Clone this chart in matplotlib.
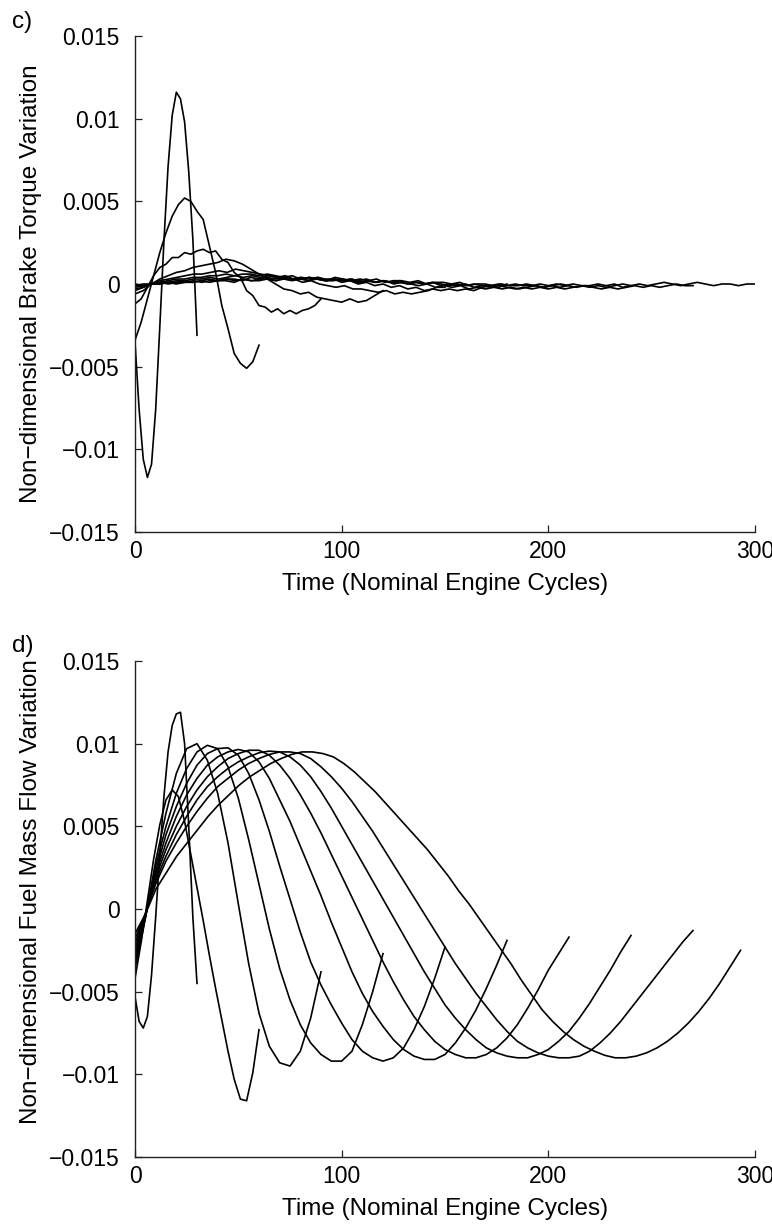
import numpy as np
import matplotlib.pyplot as plt

plt.rcParams['font.family'] = ['Liberation Sans', 'DejaVu Sans']

# end of each run (nominal engine cycles)
torque_ends = [30, 60, 90, 120, 150, 180, 210, 240, 270, 300]
fuel_ends = [30, 60, 90, 120, 150, 180, 210, 240, 270, 293]

# c) brake torque variation, in units of 1e-3
torque_30 = [-3.5, -7.6, -10.6, -11.7, -10.9, -7.6, -2.6, 2.6, 7.1, 10.2, 11.6, 11.2, 9.8, 6.8, 2.7, -3.1]
torque_60 = [-3.4, -2.3, -0.9, 0.5, 1.9, 3.1, 4.1, 4.8, 5.2, 5.0, 4.4, 3.9, 2.3, 0.7, -1.3, -2.7,
             -4.2, -4.8, -5.1, -4.7, -3.7]
torque_90 = [-1.2, -0.9, -0.2, 0.5, 1.0, 1.2, 1.6, 1.6, 1.9, 1.8, 2.0, 2.1, 1.9, 2.0, 1.5, 1.3,
             0.7, 0.4, -0.4, -0.7, -1.3, -1.4, -1.7, -1.5, -1.8, -1.6, -1.8, -1.6, -1.5, -1.3, -0.9]
torque_120 = [-0.6, -0.4, 0.0, 0.3, 0.5, 0.7, 0.8, 1.0, 1.1, 1.2, 1.3, 1.5, 1.4, 1.2, 0.9, 0.6,
              0.3, 0.0, -0.3, -0.4, -0.6, -0.5, -0.8, -0.9, -1.0, -1.1, -0.9, -1.1, -1.0, -0.7, -0.4]
torque_150 = [-0.4, -0.2, 0.0, 0.2, 0.3, 0.4, 0.5, 0.6, 0.6, 0.7, 0.8, 0.7, 0.9, 0.8, 0.7, 0.6,
              0.5, 0.4, 0.3, 0.3, 0.1, 0.2, 0.0, -0.1, -0.2, -0.1, -0.3, -0.3, -0.4, -0.5, -0.4,
              -0.6, -0.5, -0.6, -0.5, -0.4, -0.2, -0.2]
torque_180 = [-0.3, -0.2, 0.0, 0.1, 0.2, 0.3, 0.3, 0.4, 0.4, 0.5, 0.5, 0.6, 0.5, 0.6, 0.6, 0.5,
              0.6, 0.5, 0.4, 0.5, 0.3, 0.4, 0.3, 0.2, 0.3, 0.1, 0.2, 0.0, 0.1, -0.1, 0.0, -0.2,
              -0.1, -0.3, -0.2, -0.4, -0.3, -0.4, -0.3, -0.4, -0.3, -0.4, -0.2, -0.1, -0.2, 0.0]
torque_210 = [-0.2, -0.1, 0.0, 0.1, 0.1, 0.2, 0.2, 0.3, 0.3, 0.4, 0.3, 0.4, 0.5, 0.4, 0.5, 0.4,
              0.5, 0.4, 0.5, 0.3, 0.4, 0.3, 0.4, 0.2, 0.3, 0.2, 0.3, 0.1, 0.2, 0.1, 0.2, 0.0,
              0.1, 0.0, -0.1, 0.0, -0.2, -0.1, -0.2, -0.1, -0.3, -0.2, -0.3, -0.2, -0.3, -0.2,
              -0.3, -0.2, -0.1, -0.2, -0.1, 0.0, -0.1]
torque_240 = [-0.1, -0.1, 0.0, 0.0, 0.1, 0.1, 0.2, 0.1, 0.2, 0.3, 0.2, 0.3, 0.3, 0.2, 0.4, 0.3,
              0.4, 0.3, 0.4, 0.3, 0.4, 0.2, 0.4, 0.3, 0.3, 0.2, 0.3, 0.2, 0.3, 0.1, 0.2, 0.1,
              0.2, 0.0, 0.1, 0.0, 0.1, -0.1, 0.0, -0.1, 0.0, -0.2, -0.1, -0.2, -0.1, -0.2, -0.3,
              -0.2, -0.3, -0.2, -0.3, -0.2, -0.3, -0.2, -0.1, -0.2, -0.1, -0.2, -0.1, 0.0, -0.1]
torque_270 = [-0.1, 0.0, 0.0, 0.1, 0.0, 0.1, 0.1, 0.2, 0.1, 0.2, 0.2, 0.3, 0.2, 0.3, 0.2, 0.3,
              0.3, 0.2, 0.4, 0.3, 0.3, 0.4, 0.3, 0.2, 0.4, 0.3, 0.2, 0.3, 0.2, 0.3, 0.1, 0.2,
              0.2, 0.1, 0.2, 0.0, 0.1, 0.1, 0.0, 0.1, -0.1, 0.0, 0.0, -0.1, 0.0, -0.1, -0.1, 0.0,
              -0.1, -0.2, -0.1, -0.2, -0.1, -0.2, -0.1, -0.2, -0.3, -0.2, -0.3, -0.2, -0.1, -0.2,
              -0.1, -0.2, -0.1, 0.0, -0.1, -0.1]
torque_300 = [0.0, -0.1, 0.0, 0.0, 0.1, 0.0, 0.1, 0.1, 0.2, 0.1, 0.2, 0.2, 0.1, 0.3, 0.2, 0.2,
              0.3, 0.2, 0.3, 0.2, 0.3, 0.2, 0.3, 0.2, 0.2, 0.3, 0.2, 0.1, 0.2, 0.1, 0.2, 0.1,
              0.1, 0.0, 0.1, 0.0, 0.1, 0.0, -0.1, 0.0, -0.1, 0.0, -0.1, -0.1, 0.0, -0.1, 0.0,
              -0.1, -0.1, 0.0, -0.1, 0.0, -0.1, 0.0, -0.1, -0.1, 0.0, -0.1, 0.0, -0.2, -0.1, 0.0,
              -0.1, 0.0, 0.1, 0.0, -0.1, 0.0, 0.1, 0.0, -0.1, 0.0, 0.0, -0.1, 0.0, 0.0]

# d) fuel mass flow variation, in units of 1e-3
fuel_30 = [-5.3, -6.8, -7.2, -6.5, -4.0, -0.5, 3.3, 6.8, 9.5, 11.1, 11.8, 11.9, 10.0, 5.0, -0.5, -4.5]
fuel_60 = [-4.2, -2.0, 0.5, 3.0, 5.1, 6.6, 7.2, 6.8, 5.3, 3.3, 1.3, -0.7, -2.8, -4.8, -6.7, -8.6,
           -10.3, -11.5, -11.6, -9.9, -7.3]
fuel_90 = [-3.6, -0.6, 2.9, 5.8, 8.2, 9.7, 10.0, 9.0, 7.0, 4.0, 0.3, -3.3, -6.3, -8.3, -9.3, -9.5,
           -8.6, -6.6, -3.8]
fuel_120 = [-3.3, -0.5, 2.6, 5.0, 7.0, 8.5, 9.5, 9.9, 9.7, 8.6, 6.7, 4.2, 1.5, -1.2, -3.6, -5.5,
            -7.0, -8.1, -8.8, -9.2, -9.2, -8.6, -7.0, -5.0, -2.7]
fuel_150 = [-3.0, -0.5, 2.3, 4.5, 6.2, 7.6, 8.7, 9.4, 9.7, 9.75, 9.3, 8.2, 6.6, 4.7, 2.6, 0.6,
            -1.4, -3.2, -4.6, -5.8, -6.9, -7.9, -8.6, -9.0, -9.2, -9.0, -8.4, -7.3, -5.9, -4.2, -2.3]
fuel_180 = [-2.7, -0.4, 2.1, 4.0, 5.6, 6.9, 7.9, 8.7, 9.2, 9.5, 9.65, 9.5, 8.9, 7.9, 6.6, 5.3,
            3.8, 2.3, 0.8, -0.8, -2.3, -3.8, -5.1, -6.2, -7.1, -7.9, -8.5, -8.9, -9.1, -9.1,
            -8.8, -8.1, -7.2, -6.1, -4.8, -3.4, -1.9]
fuel_210 = [-2.4, -0.4, 1.9, 3.6, 5.0, 6.2, 7.2, 8.0, 8.6, 9.1, 9.4, 9.6, 9.6, 9.3, 8.7, 7.9,
            6.9, 5.8, 4.6, 3.3, 2.0, 0.7, -0.6, -1.9, -3.2, -4.4, -5.5, -6.5, -7.3, -8.0, -8.5,
            -8.8, -9.0, -9.0, -8.8, -8.4, -7.8, -7.0, -6.0, -4.9, -3.7, -2.7, -1.7]
fuel_240 = [-2.1, -0.3, 1.7, 3.2, 4.5, 5.6, 6.6, 7.4, 8.0, 8.5, 8.9, 9.2, 9.45, 9.55, 9.5, 9.2,
            8.7, 8.0, 7.1, 6.1, 5.0, 3.9, 2.8, 1.7, 0.6, -0.5, -1.6, -2.7, -3.8, -4.8, -5.8,
            -6.6, -7.3, -7.9, -8.4, -8.7, -8.9, -9.0, -9.0, -8.8, -8.5, -8.0, -7.4, -6.6, -5.7,
            -4.7, -3.7, -2.6, -1.6]
fuel_270 = [-1.8, -0.3, 1.5, 2.9, 4.0, 5.0, 5.9, 6.7, 7.4, 7.9, 8.4, 8.8, 9.1, 9.35, 9.5, 9.5,
            9.4, 9.1, 8.6, 8.0, 7.3, 6.5, 5.6, 4.7, 3.7, 2.7, 1.7, 0.7, -0.3, -1.3, -2.3, -3.3,
            -4.2, -5.1, -5.9, -6.7, -7.4, -8.0, -8.4, -8.7, -8.9, -9.0, -9.0, -8.9, -8.6, -8.1,
            -7.5, -6.8, -6.0, -5.2, -4.4, -3.6, -2.8, -2.0, -1.3]
fuel_293 = [-1.5, -0.3, 1.2, 2.2, 3.2, 4.0, 4.8, 5.6, 6.3, 6.9, 7.5, 8.0, 8.4, 8.8, 9.1, 9.35,
            9.5, 9.5, 9.4, 9.2, 8.8, 8.3, 7.7, 7.1, 6.4, 5.7, 5.0, 4.3, 3.6, 2.8, 2.0, 1.1, 0.3,
            -0.6, -1.5, -2.4, -3.3, -4.3, -5.2, -6.1, -6.8, -7.4, -7.9, -8.3, -8.6, -8.85, -9.0,
            -9.0, -8.9, -8.7, -8.4, -8.0, -7.5, -6.9, -6.2, -5.4, -4.5, -3.5, -2.5]

torque_runs = [torque_30, torque_60, torque_90, torque_120, torque_150,
               torque_180, torque_210, torque_240, torque_270, torque_300]
fuel_runs = [fuel_30, fuel_60, fuel_90, fuel_120, fuel_150,
             fuel_180, fuel_210, fuel_240, fuel_270, fuel_293]

y_ticks = [0.015, 0.01, 0.005, 0, -0.005, -0.01, -0.015]
y_ticklabels = ['0.015', '0.01', '0.005', '0', '\u22120.005', '\u22120.01', '\u22120.015']
x_ticks = [0, 100, 200, 300]

W, H = 772, 1227
fig = plt.figure(figsize=(W / 100, H / 100), dpi=100)


def px_axes(left, top, right, bottom):
    return fig.add_axes([left / W, 1 - bottom / H, (right - left) / W, (bottom - top) / H])


ax_c = px_axes(135, 36, 755, 532)
ax_d = px_axes(135, 661, 755, 1157)


def style(ax, ylabel, ylabel_y):
    ax.set_xlim(0, 300)
    ax.set_ylim(-0.015, 0.015)
    ax.set_xticks(x_ticks)
    ax.set_yticks(y_ticks)
    ax.set_yticklabels(y_ticklabels)
    for s in ['top', 'right']:
        ax.spines[s].set_visible(False)
    for s in ['left', 'bottom']:
        ax.spines[s].set_linewidth(1.0)
        ax.spines[s].set_color('#222222')
    ax.tick_params(direction='in', length=5, width=0.9, labelsize=16.5, color='#222222')
    ax.tick_params(axis='y', pad=11)
    ax.tick_params(axis='x', pad=6)
    ax.set_xlabel('Time (Nominal Engine Cycles)', fontsize=17.5)
    ax.xaxis.set_label_coords(0.5, -0.083)
    ax.set_ylabel(ylabel, fontsize=17.5)
    ax.yaxis.set_label_coords(-0.150, ylabel_y)


for end, vals in zip(torque_ends, torque_runs):
    x = np.linspace(0, end, len(vals))
    ax_c.plot(x, np.array(vals) * 1e-3, color='black', lw=1.2)

for end, vals in zip(fuel_ends, fuel_runs):
    x = np.linspace(0, end, len(vals))
    ax_d.plot(x, np.array(vals) * 1e-3, color='black', lw=1.2)

style(ax_c, 'Non\u2212dimensional Brake Torque Variation', 0.5)
style(ax_d, 'Non\u2212dimensional Fuel Mass Flow Variation', 0.535)

fig.text(12 / W, 1 - 22 / H, 'c)', fontsize=17.5, va='center', ha='left')
fig.text(12 / W, 1 - 646 / H, 'd)', fontsize=17.5, va='center', ha='left')

fig.savefig('out.png', dpi=100)
